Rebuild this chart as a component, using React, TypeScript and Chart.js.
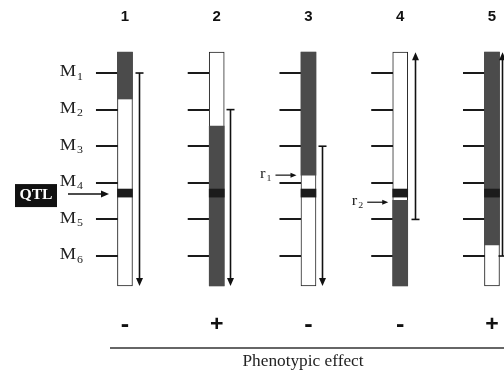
import React, { useEffect, useRef } from "react";
import { Chart, registerables } from "chart.js";

Chart.register(...registerables);

// ---------- data ----------
const columns = ["1", "2", "3", "4", "5"];
const signs = ["-", "+", "-", "-", "+"];
const markerLabels = ["1", "2", "3", "4", "5", "6"]; // subscripts of M
const markerPositions = [1, 2, 3, 4, 5, 6];
const chromTop = 0.43;
const chromBottom = 6.82;
// dark (donor) segments per chromosome
const darkFrom = [0.43, 2.45, 0.43, 4.48, 0.43];
const darkTo = [1.71, 6.82, 3.79, 6.82, 5.7];
// QTL band
const qtlFrom = 4.17;
const qtlTo = 4.39;
// supporting intervals (T-cap start -> arrow end)
const intervalFrom = [1, 2, 3, 5, 6];
const intervalTo = [6.82, 6.82, 6.82, 0.43, 0.43];
// recombination points
const recombLabels = ["1", "2"];
const recombColumn = [3, 4];
const recombPos = [3.79, 4.53];

const DARK = "#4b4b4b";
const QTLC = "#1c1c1c";

function drawText(
  ctx: CanvasRenderingContext2D,
  text: string,
  x: number,
  y: number,
  font: string,
  align: CanvasTextAlign,
  sx = 1,
  color = "#111"
) {
  ctx.save();
  ctx.translate(x, y);
  ctx.scale(sx, 1);
  ctx.font = font;
  ctx.fillStyle = color;
  ctx.textAlign = align;
  ctx.textBaseline = "middle";
  ctx.fillText(text, 0, 0);
  ctx.restore();
}

function subLabel(
  ctx: CanvasRenderingContext2D,
  main: string,
  sub: string,
  rightX: number,
  y: number,
  size: number,
  subSize: number,
  sx: number
) {
  ctx.save();
  const f1 = `${size}px "Liberation Serif", serif`;
  const f2 = `${subSize}px "Liberation Serif", serif`;
  ctx.font = f1;
  const w1 = ctx.measureText(main).width * sx;
  ctx.font = f2;
  const w2 = ctx.measureText(sub).width * sx;
  const left = rightX - w1 - w2 - 1;
  drawText(ctx, main, left, y, f1, "left", sx, "#222");
  drawText(ctx, sub, left + w1 + 1, y + size * 0.28, f2, "left", sx, "#222");
  ctx.restore();
}

function arrowHead(ctx: CanvasRenderingContext2D, x: number, y: number, dir: "up" | "down" | "right", len = 8, half = 3.5) {
  ctx.beginPath();
  if (dir === "down") {
    ctx.moveTo(x, y);
    ctx.lineTo(x - half, y - len);
    ctx.lineTo(x + half, y - len);
  } else if (dir === "up") {
    ctx.moveTo(x, y);
    ctx.lineTo(x - half, y + len);
    ctx.lineTo(x + half, y + len);
  } else {
    ctx.moveTo(x, y);
    ctx.lineTo(x - len, y - half);
    ctx.lineTo(x - len, y + half);
  }
  ctx.closePath();
  ctx.fill();
}

const decorPlugin = {
  id: "decor",
  beforeDatasetsDraw(chart: any) {
    const ctx: CanvasRenderingContext2D = chart.ctx;
    const xs = chart.scales.x;
    const ys = chart.scales.y;
    ctx.save();
    ctx.strokeStyle = "#1a1a1a";
    ctx.lineWidth = 2;
    columns.forEach((_, i) => {
      const cx = xs.getPixelForValue(i + 1);
      markerPositions.forEach((m) => {
        const py = Math.round(ys.getPixelForValue(m));
        ctx.beginPath();
        ctx.moveTo(cx - 29, py);
        ctx.lineTo(cx - 7, py);
        ctx.stroke();
      });
    });
    ctx.restore();
  },
  afterDatasetsDraw(chart: any) {
    const ctx: CanvasRenderingContext2D = chart.ctx;
    const xs = chart.scales.x;
    const ys = chart.scales.y;
    ctx.save();
    // column numbers
    columns.forEach((c, i) => {
      drawText(ctx, c, xs.getPixelForValue(i + 1), 17, 'bold 15px "Liberation Sans", Arial, sans-serif', "center", 1, "#111");
    });
    // marker labels
    const c1 = xs.getPixelForValue(1);
    markerPositions.forEach((m, k) => {
      subLabel(ctx, "M", markerLabels[k], c1 - 42, ys.getPixelForValue(m) - 1, 17, 11, 1.08);
    });
    // intervals
    const offs = [14.5, 13.5, 13.5, 15, 10.5];
    ctx.strokeStyle = "#111";
    ctx.fillStyle = "#111";
    ctx.lineWidth = 1.6;
    columns.forEach((_, i) => {
      const ax = Math.round(xs.getPixelForValue(i + 1) + offs[i]) + 0.5;
      const p1 = ys.getPixelForValue(intervalFrom[i]);
      const p2 = ys.getPixelForValue(intervalTo[i]);
      const dir = p2 > p1 ? "down" : "up";
      ctx.beginPath();
      ctx.moveTo(ax, p1);
      ctx.lineTo(ax, dir === "down" ? p2 - 6 : p2 + 6);
      ctx.stroke();
      ctx.beginPath();
      ctx.moveTo(ax - 4, p1);
      ctx.lineTo(ax + 4, p1);
      ctx.stroke();
      arrowHead(ctx, ax, p2, dir);
    });
    // signs
    signs.forEach((s, i) => {
      const cx = xs.getPixelForValue(i + 1);
      if (s === "-") {
        drawText(ctx, "-", cx, 325, 'bold 24px "Liberation Sans", Arial, sans-serif', "center", 1.05, "#111");
      } else {
        drawText(ctx, "+", cx, 325, 'bold 22px "Liberation Sans", Arial, sans-serif', "center", 1.05, "#111");
      }
    });
    // baseline
    ctx.strokeStyle = "#333";
    ctx.lineWidth = 1.5;
    ctx.beginPath();
    ctx.moveTo(110, 348);
    ctx.lineTo(504, 348);
    ctx.stroke();
    drawText(ctx, "Phenotypic effect", 303, 362, '16px "Liberation Serif", serif', "center", 1.08, "#222");
    // QTL box
    const qy = ys.getPixelForValue((qtlFrom + qtlTo) / 2);
    ctx.fillStyle = "#111";
    ctx.fillRect(15, qy - 9, 42, 23);
    drawText(ctx, "QTL", 36, qy + 2.5, 'bold 14px "Liberation Serif", serif', "center", 1.12, "#fff");
    ctx.strokeStyle = "#111";
    ctx.lineWidth = 1.6;
    ctx.beginPath();
    ctx.moveTo(68, qy + 1);
    ctx.lineTo(102, qy + 1);
    ctx.stroke();
    ctx.fillStyle = "#111";
    arrowHead(ctx, 109, qy + 1, "right", 8, 3.5);
    // recombination arrows
    recombLabels.forEach((r, k) => {
      const cx = xs.getPixelForValue(recombColumn[k]);
      const py = ys.getPixelForValue(recombPos[k]);
      const tip = cx - 12;
      ctx.strokeStyle = "#111";
      ctx.lineWidth = 1.2;
      ctx.beginPath();
      ctx.moveTo(tip - 21, py);
      ctx.lineTo(tip - 4, py);
      ctx.stroke();
      ctx.fillStyle = "#111";
      arrowHead(ctx, tip, py, "right", 6, 2.5);
      subLabel(ctx, "r", r, tip - 25, py - 1, 15, 9, 1.1);
    });
    ctx.restore();
  },
};

export default function App() {
  const ref = useRef<HTMLCanvasElement | null>(null);
  useEffect(() => {
    if (!ref.current) return;
    const base = columns.map((_, i) => ({ x: i + 1, y: [chromTop, chromBottom] }));
    const dark = columns.map((_, i) => ({ x: i + 1, y: [darkFrom[i], darkTo[i]] }));
    const qtl = columns.map((_, i) => ({ x: i + 1, y: [qtlFrom, qtlTo] }));
    const chart = new Chart(ref.current, {
      type: "bar",
      data: {
        datasets: [
          { label: "QTL", data: qtl as any, backgroundColor: QTLC, borderWidth: 0, barThickness: 15, grouped: false, order: 1 } as any,
          { label: "donor", data: dark as any, backgroundColor: DARK, borderWidth: 0, barThickness: 15, grouped: false, order: 2 } as any,
          {
            label: "chromosome",
            data: base as any,
            backgroundColor: "#ffffff",
            borderColor: "#222",
            borderWidth: 1,
            borderSkipped: false,
            barThickness: 15,
            grouped: false,
            order: 3,
          } as any,
        ],
      },
      options: {
        animation: false,
        responsive: false,
        maintainAspectRatio: false,
        layout: { padding: 0 },
        plugins: { legend: { display: false }, tooltip: { enabled: false } },
        scales: {
          x: { type: "linear", offset: false, min: -0.362, max: 5.131, display: false },
          y: { type: "linear", reverse: true, min: -0.995, max: 9.278, display: false },
        },
      },
      plugins: [decorPlugin],
    });
    return () => chart.destroy();
  }, []);
  return (
    <div style={{ position: "absolute", left: 0, top: 0, width: 504, height: 376, background: "#fff" }}>
      <canvas ref={ref} width={504} height={376} style={{ display: "block" }} />
    </div>
  );
}
